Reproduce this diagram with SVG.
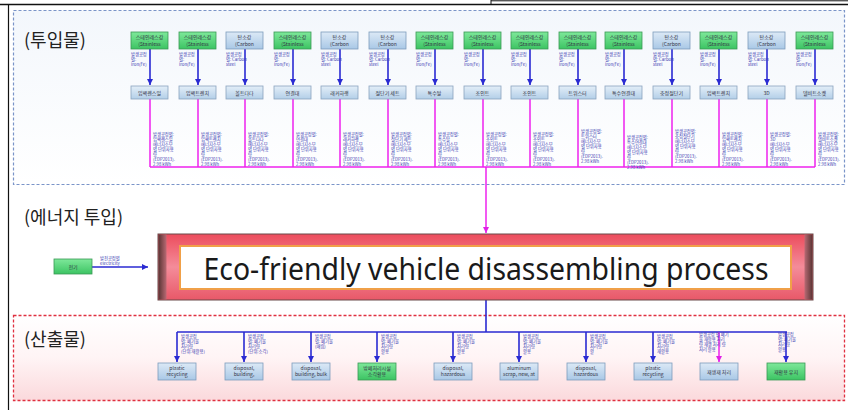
<svg xmlns="http://www.w3.org/2000/svg" width="848" height="410" viewBox="0 0 848 410">
<defs>
<linearGradient id="gS" x1="0" y1="0" x2="0" y2="1"><stop offset="0" stop-color="#7ee89a"/><stop offset="1" stop-color="#3cc463"/></linearGradient>
<linearGradient id="gC" x1="0" y1="0" x2="0" y2="1"><stop offset="0" stop-color="#dce9f6"/><stop offset="1" stop-color="#a9c8e6"/></linearGradient>
<linearGradient id="gP" x1="0" y1="0" x2="0" y2="1"><stop offset="0" stop-color="#e3eef8"/><stop offset="1" stop-color="#b3cfe8"/></linearGradient>
<linearGradient id="gTop" x1="0" y1="0" x2="0" y2="1"><stop offset="0" stop-color="#f3f7fc"/><stop offset="1" stop-color="#ffffff"/></linearGradient>
<linearGradient id="gBot" x1="0" y1="0" x2="0" y2="1"><stop offset="0" stop-color="#ffffff"/><stop offset="0.5" stop-color="#fff4f5"/><stop offset="1" stop-color="#fbd9dc"/></linearGradient>
<linearGradient id="gProc" x1="0" y1="0" x2="0" y2="1"><stop offset="0" stop-color="#ec4c5c"/><stop offset="0.5" stop-color="#f48c9a"/><stop offset="1" stop-color="#e85868"/></linearGradient>
<linearGradient id="gL" x1="0" y1="0" x2="1" y2="0"><stop offset="0" stop-color="#5a3434"/><stop offset="1" stop-color="#b86a74"/></linearGradient>
<linearGradient id="gR" x1="1" y1="0" x2="0" y2="0"><stop offset="0" stop-color="#5a3434"/><stop offset="1" stop-color="#b86a74"/></linearGradient>
<marker id="ab" markerUnits="userSpaceOnUse" markerWidth="6" markerHeight="6" refX="6" refY="3" orient="auto"><path d="M0,0 L6,3 L0,6 z" fill="#2a2ad2"/></marker>
<marker id="am" markerUnits="userSpaceOnUse" markerWidth="6" markerHeight="6" refX="6" refY="3" orient="auto"><path d="M0,0 L6,3 L0,6 z" fill="#e020e6"/></marker>
</defs>
<style>
.h{font-family:"Noto Sans CJK KR","Noto Sans",sans-serif;font-size:18px;fill:#222}
.n{font-family:"Noto Sans CJK KR","Liberation Sans",sans-serif;font-size:5px;fill:#334;text-anchor:middle}
.t{font-family:"Noto Sans CJK KR","Liberation Sans",sans-serif;font-size:4.3px;fill:#3838b0}
.s{fill:url(#gS);stroke:#3a9a55;stroke-width:0.8}
.c{fill:url(#gC);stroke:#7d9cbc;stroke-width:0.8}
.p{fill:url(#gP);stroke:#8aa4bf;stroke-width:0.8}
.bl{stroke:#2a2ad2;stroke-width:1.6;fill:none}
.mg{stroke:#ee22ee;stroke-width:1.5;fill:none}
</style>
<rect width="848" height="410" fill="#ffffff"/>
<!-- frame -->
<line x1="0" y1="4.5" x2="848" y2="4.5" stroke="#111" stroke-width="1.3"/>
<line x1="491" y1="0.8" x2="848" y2="0.8" stroke="#111" stroke-width="1"/>
<line x1="491" y1="0" x2="491" y2="4.5" stroke="#111" stroke-width="1"/>
<line x1="8.5" y1="4.5" x2="8.5" y2="410" stroke="#111" stroke-width="1.2"/>
<!-- regions -->
<rect x="13.5" y="10.5" width="831" height="174" fill="url(#gTop)" stroke="#7a94c8" stroke-width="1.2" stroke-dasharray="3,2"/>
<rect x="13.5" y="315.5" width="831" height="85" fill="url(#gBot)" stroke="#e03040" stroke-width="1.3" stroke-dasharray="3,2"/>
<text class="h" x="24" y="47">(투입물)</text>
<text class="h" x="24" y="224">(에너지 투입)</text>
<text class="h" x="24" y="346">(산출물)</text>

<!-- connectors -->
<g id="connectors">
<g class="bl">
<line x1="150" y1="49" x2="150" y2="85" marker-end="url(#ab)"/>
<line x1="198" y1="49" x2="198" y2="85" marker-end="url(#ab)"/>
<line x1="245" y1="49" x2="245" y2="85" marker-end="url(#ab)"/>
<line x1="293" y1="49" x2="293" y2="85" marker-end="url(#ab)"/>
<line x1="340" y1="49" x2="340" y2="85" marker-end="url(#ab)"/>
<line x1="388" y1="49" x2="388" y2="85" marker-end="url(#ab)"/>
<line x1="435" y1="49" x2="435" y2="85" marker-end="url(#ab)"/>
<line x1="483" y1="49" x2="483" y2="85" marker-end="url(#ab)"/>
<line x1="530" y1="49" x2="530" y2="85" marker-end="url(#ab)"/>
<line x1="578" y1="49" x2="578" y2="85" marker-end="url(#ab)"/>
<line x1="624" y1="49" x2="624" y2="85" marker-end="url(#ab)"/>
<line x1="672" y1="49" x2="672" y2="85" marker-end="url(#ab)"/>
<line x1="719" y1="49" x2="719" y2="85" marker-end="url(#ab)"/>
<line x1="767" y1="49" x2="767" y2="85" marker-end="url(#ab)"/>
<line x1="815" y1="49" x2="815" y2="85" marker-end="url(#ab)"/>
</g>
<g class="mg">
<line x1="150" y1="99" x2="150" y2="167"/>
<line x1="198" y1="99" x2="198" y2="167"/>
<line x1="245" y1="99" x2="245" y2="167"/>
<line x1="293" y1="99" x2="293" y2="167"/>
<line x1="340" y1="99" x2="340" y2="167"/>
<line x1="388" y1="99" x2="388" y2="167"/>
<line x1="435" y1="99" x2="435" y2="167"/>
<line x1="483" y1="99" x2="483" y2="167"/>
<line x1="530" y1="99" x2="530" y2="167"/>
<line x1="578" y1="99" x2="578" y2="167"/>
<line x1="624" y1="99" x2="624" y2="167"/>
<line x1="672" y1="99" x2="672" y2="167"/>
<line x1="719" y1="99" x2="719" y2="167"/>
<line x1="767" y1="99" x2="767" y2="167"/>
<line x1="815" y1="99" x2="815" y2="167"/>
<line x1="150" y1="167" x2="815" y2="167"/>
<line x1="486" y1="167" x2="486" y2="233" marker-end="url(#am)"/>
</g>
<line class="bl" x1="92" y1="267" x2="148" y2="267" marker-end="url(#ab)"/>
<g class="bl">
<line x1="486" y1="300" x2="486" y2="332"/>
<line x1="177" y1="332" x2="787" y2="332"/>
<line x1="177" y1="332" x2="177" y2="362" marker-end="url(#ab)"/>
<line x1="244" y1="332" x2="244" y2="362" marker-end="url(#ab)"/>
<line x1="311" y1="332" x2="311" y2="362" marker-end="url(#ab)"/>
<line x1="377" y1="332" x2="377" y2="362" marker-end="url(#ab)"/>
<line x1="453" y1="332" x2="453" y2="362" marker-end="url(#ab)"/>
<line x1="519" y1="332" x2="519" y2="362" marker-end="url(#ab)"/>
<line x1="586" y1="332" x2="586" y2="362" marker-end="url(#ab)"/>
<line x1="653" y1="332" x2="653" y2="362" marker-end="url(#ab)"/>
<line x1="786" y1="332" x2="786" y2="362" marker-end="url(#ab)"/>
</g>
<line class="mg" x1="719" y1="332" x2="719" y2="362" marker-end="url(#am)"/>
</g>

<!-- input top nodes -->
<g id="in1"><rect class="s" x="131" y="32" width="37" height="17"/><text class="n" x="149.5" y="39">스테인레스강</text><text class="n" x="149.5" y="46">(Stainless</text><text class="t" x="131" y="56">발생공정</text><text class="t" x="131" y="61">별:</text><text class="t" x="131" y="66">iron(Fe)</text></g>
<g id="in2"><rect class="s" x="179" y="32" width="37" height="17"/><text class="n" x="197.5" y="39">스테인레스강</text><text class="n" x="197.5" y="46">(Stainless</text><text class="t" x="179" y="56">발생공정</text><text class="t" x="179" y="61">별:</text><text class="t" x="179" y="66">iron(Fe)</text></g>
<g id="in3"><rect class="c" x="226" y="32" width="37" height="17"/><text class="n" x="244.5" y="39">탄소강</text><text class="n" x="244.5" y="46">(Carbon</text><text class="t" x="226" y="56">발생공정</text><text class="t" x="226" y="61">별: Carbon</text><text class="t" x="226" y="66">steel</text></g>
<g id="in4"><rect class="s" x="274" y="32" width="37" height="17"/><text class="n" x="292.5" y="39">스테인레스강</text><text class="n" x="292.5" y="46">(Stainless</text><text class="t" x="274" y="56">발생공정</text><text class="t" x="274" y="61">별:</text><text class="t" x="274" y="66">iron(Fe)</text></g>
<g id="in5"><rect class="c" x="321" y="32" width="37" height="17"/><text class="n" x="339.5" y="39">탄소강</text><text class="n" x="339.5" y="46">(Carbon</text><text class="t" x="321" y="56">발생공정</text><text class="t" x="321" y="61">별: Carbon</text><text class="t" x="321" y="66">steel</text></g>
<g id="in6"><rect class="c" x="369" y="32" width="37" height="17"/><text class="n" x="387.5" y="39">탄소강</text><text class="n" x="387.5" y="46">(Carbon</text><text class="t" x="369" y="56">발생공정</text><text class="t" x="369" y="61">별: Carbon</text><text class="t" x="369" y="66">steel</text></g>
<g id="in7"><rect class="s" x="416" y="32" width="37" height="17"/><text class="n" x="434.5" y="39">스테인레스강</text><text class="n" x="434.5" y="46">(Stainless</text><text class="t" x="416" y="56">발생공정</text><text class="t" x="416" y="61">별:</text><text class="t" x="416" y="66">iron(Fe)</text></g>
<g id="in8"><rect class="s" x="464" y="32" width="37" height="17"/><text class="n" x="482.5" y="39">스테인레스강</text><text class="n" x="482.5" y="46">(Stainless</text><text class="t" x="464" y="56">발생공정</text><text class="t" x="464" y="61">별:</text><text class="t" x="464" y="66">iron(Fe)</text></g>
<g id="in9"><rect class="s" x="511" y="32" width="37" height="17"/><text class="n" x="529.5" y="39">스테인레스강</text><text class="n" x="529.5" y="46">(Stainless</text><text class="t" x="511" y="56">발생공정</text><text class="t" x="511" y="61">별:</text><text class="t" x="511" y="66">iron(Fe)</text></g>
<g id="in10"><rect class="s" x="559" y="32" width="37" height="17"/><text class="n" x="577.5" y="39">스테인레스강</text><text class="n" x="577.5" y="46">(Stainless</text><text class="t" x="559" y="56">발생공정</text><text class="t" x="559" y="61">별:</text><text class="t" x="559" y="66">iron(Fe)</text></g>
<g id="in11"><rect class="s" x="605" y="32" width="37" height="17"/><text class="n" x="623.5" y="39">스테인레스강</text><text class="n" x="623.5" y="46">(Stainless</text><text class="t" x="605" y="56">발생공정</text><text class="t" x="605" y="61">별:</text><text class="t" x="605" y="66">iron(Fe)</text></g>
<g id="in12"><rect class="c" x="653" y="32" width="37" height="17"/><text class="n" x="671.5" y="39">탄소강</text><text class="n" x="671.5" y="46">(Carbon</text><text class="t" x="653" y="56">발생공정</text><text class="t" x="653" y="61">별: Carbon</text><text class="t" x="653" y="66">steel</text></g>
<g id="in13"><rect class="s" x="700" y="32" width="37" height="17"/><text class="n" x="718.5" y="39">스테인레스강</text><text class="n" x="718.5" y="46">(Stainless</text><text class="t" x="700" y="56">발생공정</text><text class="t" x="700" y="61">별:</text><text class="t" x="700" y="66">iron(Fe)</text></g>
<g id="in14"><rect class="c" x="748" y="32" width="37" height="17"/><text class="n" x="766.5" y="39">탄소강</text><text class="n" x="766.5" y="46">(Carbon</text><text class="t" x="748" y="56">발생공정</text><text class="t" x="748" y="61">별: Carbon</text><text class="t" x="748" y="66">steel</text></g>
<g id="in15"><rect class="s" x="796" y="32" width="37" height="17"/><text class="n" x="814.5" y="39">스테인레스강</text><text class="n" x="814.5" y="46">(Stainless</text><text class="t" x="796" y="56">발생공정</text><text class="t" x="796" y="61">별:</text><text class="t" x="796" y="66">iron(Fe)</text></g>

<!-- tool nodes -->
<g id="tool1"><rect class="p" x="131" y="86" width="37" height="13"/><text class="n" x="149.5" y="94.5">임팩렌스일</text><g class="t"><text x="153" y="136">발생공정별:</text><text x="153" y="141">임팩렌스일</text><text x="153" y="146">에너지소모</text><text x="153" y="151">별 단위사용</text><text x="153" y="156">량</text><text x="153" y="161">(EDP2013).</text><text x="153" y="166">2.98 kWh</text></g></g>
<g id="tool2"><rect class="p" x="179" y="86" width="37" height="13"/><text class="n" x="197.5" y="94.5">임팩트렌치</text><g class="t"><text x="201" y="136">발생공정별:</text><text x="201" y="141">임팩트렌치</text><text x="201" y="146">에너지소모</text><text x="201" y="151">별 단위사용</text><text x="201" y="156">량</text><text x="201" y="161">(EDP2013).</text><text x="201" y="166">2.98 kWh</text></g></g>
<g id="tool3"><rect class="p" x="226" y="86" width="37" height="13"/><text class="n" x="244.5" y="94.5">볼트다다</text><g class="t"><text x="248" y="136">발생공정별:</text><text x="248" y="141">볼트다다</text><text x="248" y="146">에너지소모</text><text x="248" y="151">별 단위사용</text><text x="248" y="156">량</text><text x="248" y="161">(EDP2013).</text><text x="248" y="166">2.98 kWh</text></g></g>
<g id="tool4"><rect class="p" x="274" y="86" width="37" height="13"/><text class="n" x="292.5" y="94.5">연결대</text><g class="t"><text x="296" y="136">발생공정별:</text><text x="296" y="141">연결대</text><text x="296" y="146">에너지소모</text><text x="296" y="151">별 단위사용</text><text x="296" y="156">량</text><text x="296" y="161">(EDP2013).</text><text x="296" y="166">2.98 kWh</text></g></g>
<g id="tool5"><rect class="p" x="321" y="86" width="37" height="13"/><text class="n" x="339.5" y="94.5">래커하랭</text><g class="t"><text x="343" y="136">발생공정별:</text><text x="343" y="141">래커하랭</text><text x="343" y="146">에너지소모</text><text x="343" y="151">별 단위사용</text><text x="343" y="156">량</text><text x="343" y="161">(EDP2013).</text><text x="343" y="166">2.98 kWh</text></g></g>
<g id="tool6"><rect class="p" x="369" y="86" width="37" height="13"/><text class="n" x="387.5" y="94.5">절단기 세트</text><g class="t"><text x="391" y="136">발생공정별:</text><text x="391" y="141">절단기 세트</text><text x="391" y="146">에너지소모</text><text x="391" y="151">별 단위사용</text><text x="391" y="156">량</text><text x="391" y="161">(EDP2013).</text><text x="391" y="166">2.98 kWh</text></g></g>
<g id="tool7"><rect class="p" x="416" y="86" width="37" height="13"/><text class="n" x="434.5" y="94.5">특수탈</text><g class="t"><text x="438" y="136">발생공정별:</text><text x="438" y="141">특수탈</text><text x="438" y="146">에너지소모</text><text x="438" y="151">별 단위사용</text><text x="438" y="156">량</text><text x="438" y="161">(EDP2013).</text><text x="438" y="166">2.98 kWh</text></g></g>
<g id="tool8"><rect class="p" x="464" y="86" width="37" height="13"/><text class="n" x="482.5" y="94.5">조인트</text><g class="t"><text x="486" y="136">발생공정별:</text><text x="486" y="141">조인트</text><text x="486" y="146">에너지소모</text><text x="486" y="151">별 단위사용</text><text x="486" y="156">량</text><text x="486" y="161">(EDP2013).</text><text x="486" y="166">2.98 kWh</text></g></g>
<g id="tool9"><rect class="p" x="511" y="86" width="37" height="13"/><text class="n" x="529.5" y="94.5">조인트</text><g class="t"><text x="533" y="136">발생공정별:</text><text x="533" y="141">조인트</text><text x="533" y="146">에너지소모</text><text x="533" y="151">별 단위사용</text><text x="533" y="156">량</text><text x="533" y="161">(EDP2013).</text><text x="533" y="166">2.98 kWh</text></g></g>
<g id="tool10"><rect class="p" x="559" y="86" width="37" height="13"/><text class="n" x="577.5" y="94.5">트위스터</text><g class="t"><text x="581" y="133">발생공정별:</text><text x="581" y="138">트위스터</text><text x="581" y="143">에너지소모</text><text x="581" y="148">별 단위사용</text><text x="581" y="153">량</text><text x="581" y="158">(EDP2013).</text><text x="581" y="163">2.98 kWh</text></g></g>
<g id="tool11"><rect class="p" x="605" y="86" width="37" height="13"/><text class="n" x="623.5" y="94.5">특수연결대</text><g class="t"><text x="627" y="139">발생공정별:</text><text x="627" y="144">특수연결대</text><text x="627" y="149">에너지소모</text><text x="627" y="154">별 단위사용</text><text x="627" y="159">량</text><text x="627" y="164">(EDP2013).</text><text x="627" y="169">2.98 kWh</text></g></g>
<g id="tool12"><rect class="p" x="653" y="86" width="37" height="13"/><text class="n" x="671.5" y="94.5">충정절단기</text><g class="t"><text x="675" y="133">발생공정별:</text><text x="675" y="138">충정절단기</text><text x="675" y="143">에너지소모</text><text x="675" y="148">별 단위사용</text><text x="675" y="153">량</text><text x="675" y="158">(EDP2013).</text><text x="675" y="163">2.98 kWh</text></g></g>
<g id="tool13"><rect class="p" x="700" y="86" width="37" height="13"/><text class="n" x="718.5" y="94.5">임팩트렌치</text><g class="t"><text x="722" y="136">발생공정별:</text><text x="722" y="141">임팩트렌치</text><text x="722" y="146">에너지소모</text><text x="722" y="151">별 단위사용</text><text x="722" y="156">량</text><text x="722" y="161">(EDP2013).</text><text x="722" y="166">2.98 kWh</text></g></g>
<g id="tool14"><rect class="p" x="748" y="86" width="37" height="13"/><text class="n" x="766.5" y="94.5">3D</text><g class="t"><text x="770" y="136">발생공정별:</text><text x="770" y="141">3D</text><text x="770" y="146">에너지소모</text><text x="770" y="151">별 단위사용</text><text x="770" y="156">량</text><text x="770" y="161">(EDP2013).</text><text x="770" y="166">2.98 kWh</text></g></g>
<g id="tool15"><rect class="p" x="796" y="86" width="37" height="13"/><text class="n" x="814.5" y="94.5">델비트소켓</text><g class="t"><text x="818" y="136">발생공정별:</text><text x="818" y="141">델비트소켓</text><text x="818" y="146">에너지소모</text><text x="818" y="151">별 단위사용</text><text x="818" y="156">량</text><text x="818" y="161">(EDP2013).</text><text x="818" y="166">2.98 kWh</text></g></g>

<!-- energy input -->
<g id="electricity"><rect class="s" x="54" y="259" width="38" height="15"/><text class="n" x="73" y="268.5">전기</text><text class="t" x="100" y="260">발전공정별</text><text class="t" x="100" y="264.5">electricity</text></g>

<!-- process -->
<g id="process">
<rect x="158" y="234" width="655" height="66" fill="url(#gProc)" stroke="#6a4a4a" stroke-width="1"/>
<rect x="158.5" y="234.5" width="8" height="65" fill="url(#gL)"/>
<rect x="804.5" y="234.5" width="8" height="65" fill="url(#gR)"/>
<rect x="180" y="246" width="611" height="43" fill="#ffffff" stroke="#f0a048" stroke-width="2"/>
<text x="486" y="280" text-anchor="middle" font-family="'Noto Sans','Noto Sans CJK KR',sans-serif" font-size="30" fill="#1a1a1a" textLength="565" lengthAdjust="spacingAndGlyphs">Eco-friendly vehicle disassembling process</text>
</g>

<!-- outputs -->
<g id="out1"><rect class="c" x="158" y="363" width="38" height="17"/><text class="n" x="177" y="370">plastic</text><text class="n" x="177" y="376">recycling</text><g class="t"><text x="181" y="338">발생공정</text><text x="181" y="343">별: 폐기물</text><text x="181" y="348">처리량</text><text x="181" y="353">(단위:재활용)</text></g></g>
<g id="out2"><rect class="c" x="225" y="363" width="38" height="17"/><text class="n" x="244" y="370">disposal,</text><text class="n" x="244" y="376">building,</text><g class="t"><text x="248" y="338">발생공정</text><text x="248" y="343">별: 폐기물</text><text x="248" y="348">처리량</text><text x="248" y="353">(단위:소각)</text></g></g>
<g id="out3"><rect class="c" x="292" y="363" width="38" height="17"/><text class="n" x="311" y="370">disposal,</text><text class="n" x="311" y="376">building, bulk</text><g class="t"><text x="315" y="338">발생공정</text><text x="315" y="343">별: 폐기물</text><text x="315" y="348">(매립)</text></g></g>
<g id="out4"><rect class="s" x="358" y="363" width="38" height="17"/><text class="n" x="377" y="370">방폐처리시설</text><text class="n" x="377" y="376">소각활용</text><g class="t"><text x="381" y="338">발생공정</text><text x="381" y="343">별: 폐기물</text><text x="381" y="348">처리량</text><text x="381" y="353">활용</text></g></g>
<g id="out5"><rect class="c" x="434" y="363" width="38" height="17"/><text class="n" x="453" y="370">disposal,</text><text class="n" x="453" y="376">hazardous</text><g class="t"><text x="457" y="338">발생공정</text><text x="457" y="343">별: 폐기물</text><text x="457" y="348">처리량</text><text x="457" y="353">활용</text></g></g>
<g id="out6"><rect class="c" x="500" y="363" width="38" height="17"/><text class="n" x="519" y="370">aluminum</text><text class="n" x="519" y="376">scrap, new, at</text><g class="t"><text x="523" y="338">발생공정</text><text x="523" y="343">별: 폐기물</text><text x="523" y="348">처리량</text><text x="523" y="353">활용</text></g></g>
<g id="out7"><rect class="c" x="567" y="363" width="38" height="17"/><text class="n" x="586" y="370">disposal,</text><text class="n" x="586" y="376">hazardous</text><g class="t"><text x="590" y="338">발생공정</text><text x="590" y="343">별: 폐기물</text><text x="590" y="348">처리량</text><text x="590" y="353">활</text></g></g>
<g id="out8"><rect class="c" x="634" y="363" width="38" height="17"/><text class="n" x="653" y="370">plastic</text><text class="n" x="653" y="376">recycling</text><g class="t"><text x="657" y="338">발생공정</text><text x="657" y="343">별: 폐기물</text><text x="657" y="348">처리량</text><text x="657" y="353">재활용</text></g></g>
<g id="out9"><rect class="c" x="700" y="363" width="38" height="17"/><text class="n" x="719" y="373.5">재생재 처리</text><g class="t"><text x="699" y="336">발생공정 별 폐기</text><text x="699" y="341">물 재활용 처리</text><text x="699" y="346">량 재생 처리 량</text><text x="699" y="351">처리 활용</text></g></g>
<g id="out10"><rect class="s" x="767" y="363" width="38" height="17"/><text class="n" x="786" y="373.5">재활용 유지</text><g class="t"><text x="778" y="336">발생공정</text><text x="778" y="341">별: 폐기물</text><text x="778" y="346">처리량</text><text x="778" y="351">활용</text></g></g>
</svg>
